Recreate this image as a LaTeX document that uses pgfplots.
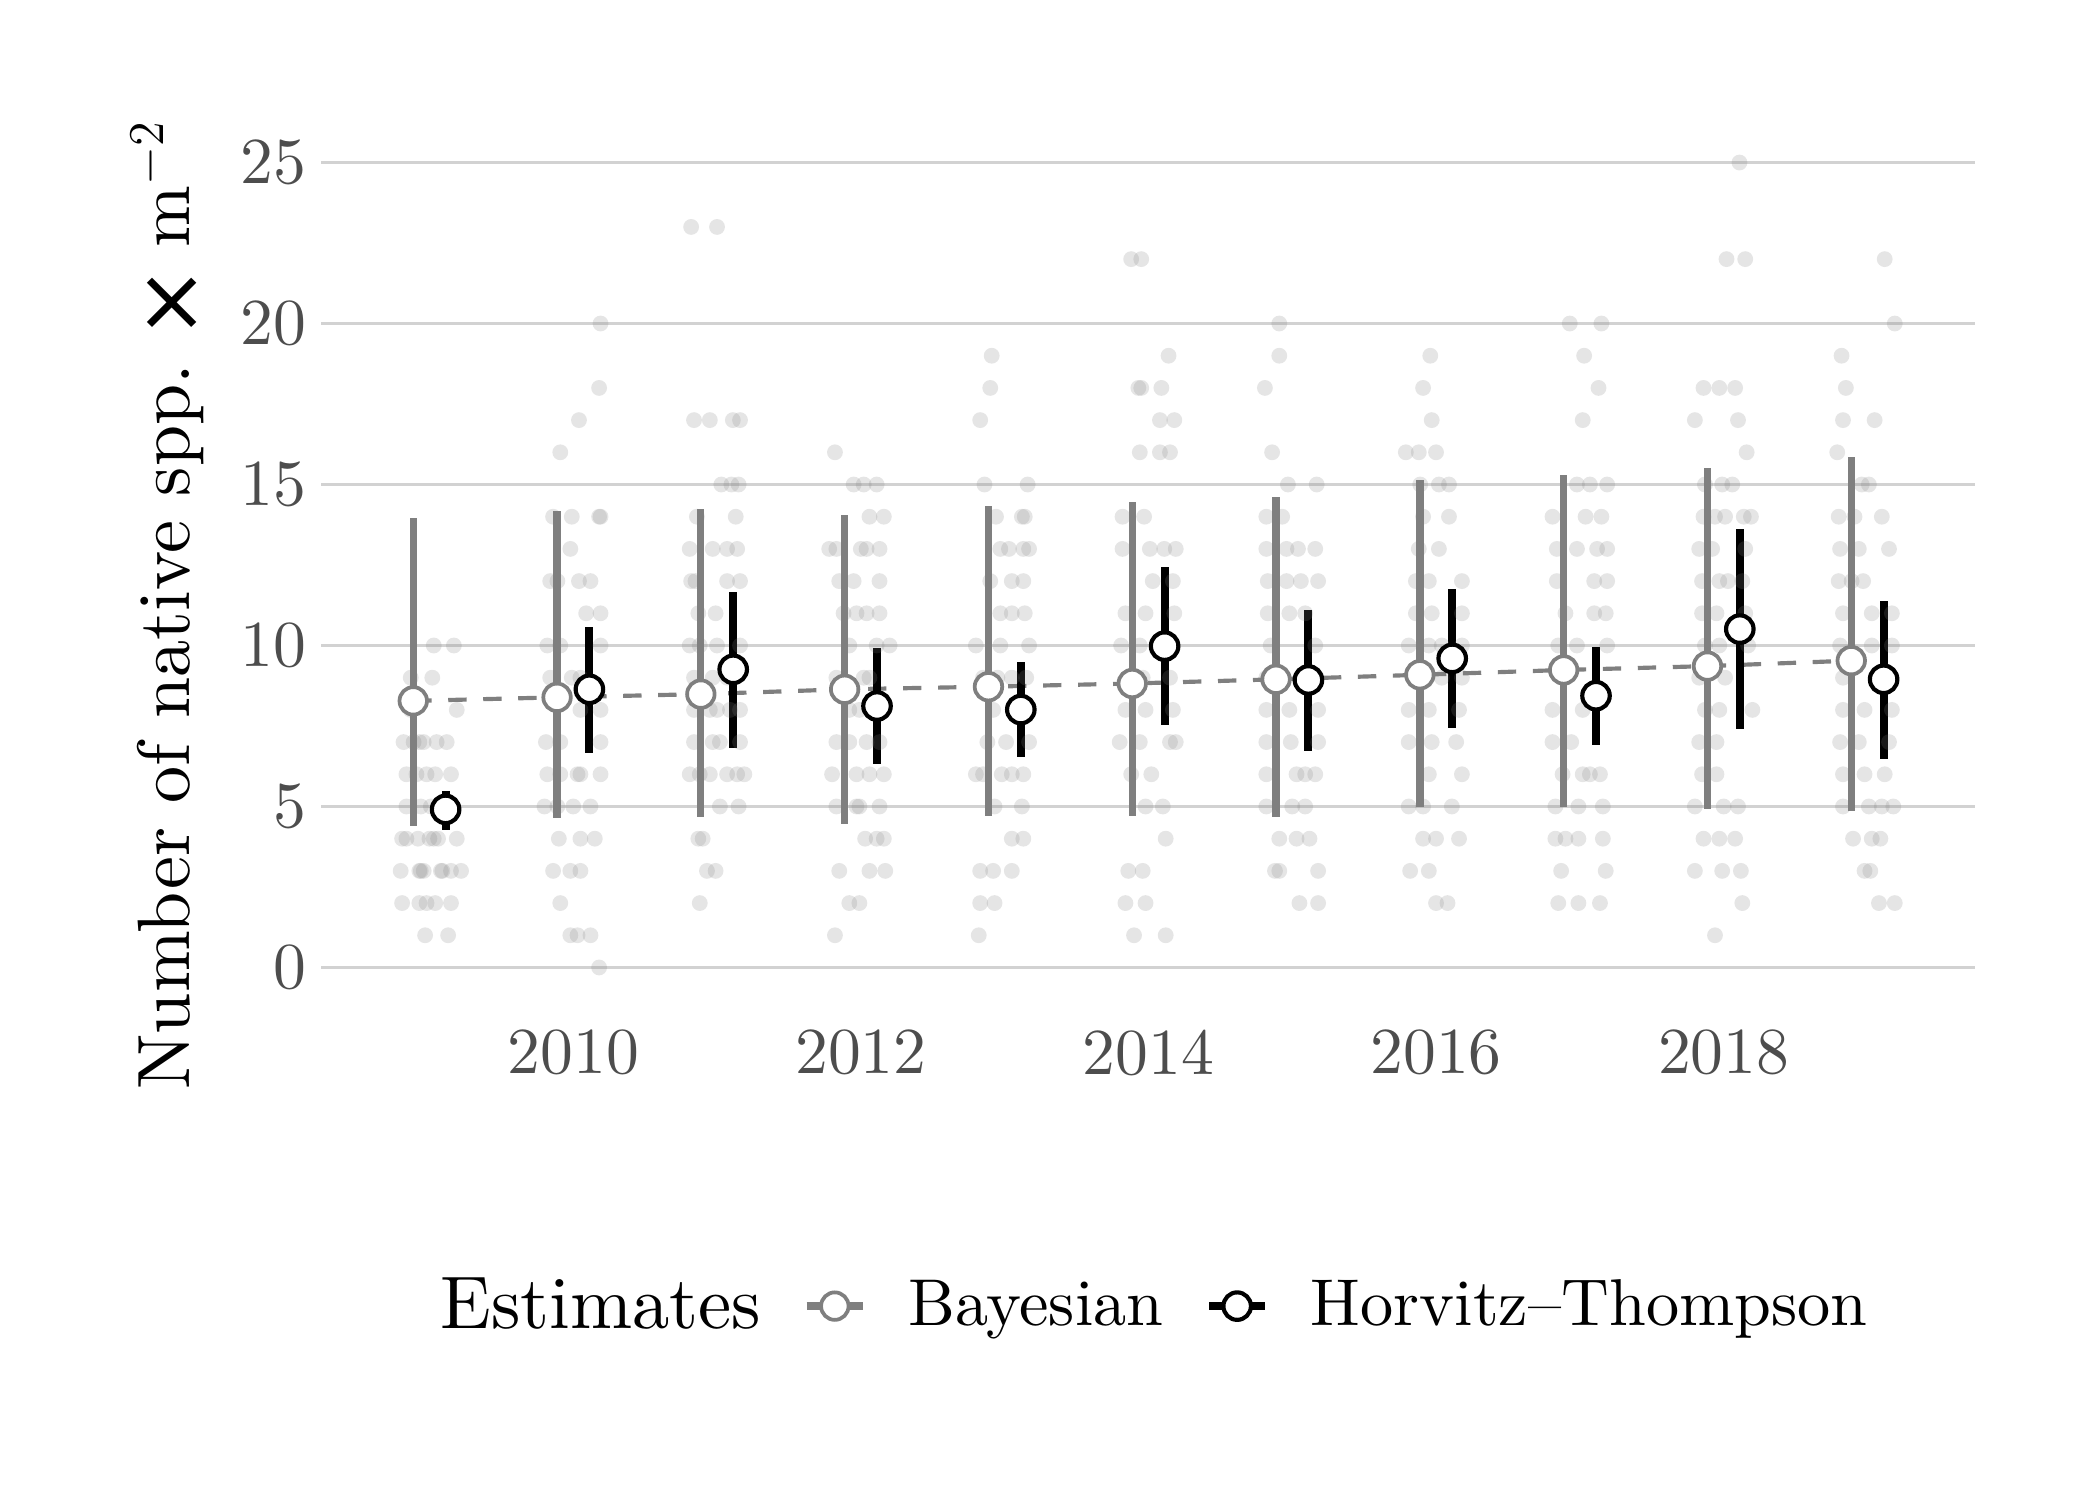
\documentclass[border=0pt]{standalone}
\usepackage{fontspec}
\setmainfont{lmroman10}[Extension=.otf, UprightFont=*-regular, BoldFont=*-bold, ItalicFont=*-italic]
\newfontfamily\djv{DejaVu Sans}
\usepackage{pgfplots}
\pgfplotsset{compat=1.18}
\usepackage{pgfplotstable}
\definecolor{g50}{HTML}{7F7F7F}
\definecolor{g30}{HTML}{4D4D4D}
\definecolor{gridc}{HTML}{D2D2D2}

\pgfplotstableread{
yr xb xh b bl bu h hl hu
2009 2008.8875 2009.1125 8.28 4.39 13.96 4.91 4.26 5.49
2010 2009.8875 2010.1125 8.39 4.63 14.17 8.64 6.67 10.57
2011 2010.8875 2011.1125 8.49 4.67 14.24 9.26 6.82 11.67
2012 2011.8875 2012.1125 8.64 4.47 14.04 8.12 6.32 9.92
2013 2012.8875 2013.1125 8.72 4.71 14.33 8.01 6.54 9.48
2014 2013.8875 2014.1125 8.82 4.71 14.46 9.98 7.52 12.44
2015 2014.8875 2015.1125 8.95 4.68 14.62 8.93 6.71 11.09
2016 2015.8875 2016.1125 9.09 4.97 15.14 9.60 7.44 11.75
2017 2016.8875 2017.1125 9.24 4.97 15.29 8.44 6.92 9.96
2018 2017.8875 2018.1125 9.36 4.92 15.51 10.51 7.40 13.61
2019 2018.8875 2019.1125 9.53 4.87 15.84 8.95 6.48 11.39
}\est

\pgfplotstableread[row sep=\\]{
x y\\
2009.03 10\\ 2009.17 10\\ 2008.87 9\\ 2009.02 9\\ 2008.87 8\\ 2009.19 8\\
2008.82 7\\ 2008.89 7\\ 2008.93 7\\ 2008.96 7\\ 2009.05 7\\ 2009.12 7\\
2008.84 6\\ 2008.91 6\\ 2008.98 6\\ 2009.04 6\\ 2009.15 6\\
2008.84 5\\ 2008.94 5\\ 2009.01 5\\
2008.81 4\\ 2008.84 4\\ 2008.92 4\\ 2009.00 4\\ 2009.03 4\\ 2009.06 4\\ 2009.19 4\\
2008.80 3\\ 2008.93 3\\ 2008.94 3\\ 2008.96 3\\ 2009.08 3\\ 2009.09 3\\ 2009.15 3\\ 2009.22 3\\
2008.81 2\\ 2008.93 2\\ 2008.98 2\\ 2009.04 2\\ 2009.15 2\\ 2008.97 1\\ 2009.13 1\\
2010.19 20\\ 2010.18 18\\ 2010.04 17\\ 2009.91 16\\
2009.86 14\\ 2009.99 14\\ 2010.18 14\\ 2010.19 14\\ 2009.98 13\\
2009.84 12\\ 2009.89 12\\ 2010.04 12\\ 2010.12 12\\ 2010.09 11\\ 2010.19 11\\
2009.82 10\\ 2009.91 10\\ 2010.19 10\\ 2009.84 9\\ 2009.99 9\\ 2010.05 9\\
2010.05 8\\ 2010.19 8\\ 2009.81 7\\ 2009.91 7\\ 2010.19 7\\
2009.82 6\\ 2009.91 6\\ 2010.03 6\\ 2010.05 6\\ 2010.19 6\\
2009.80 5\\ 2009.89 5\\ 2010.00 5\\ 2010.12 5\\ 2009.90 4\\ 2010.05 4\\ 2010.15 4\\
2009.86 3\\ 2009.98 3\\ 2010.05 3\\ 2009.91 2\\ 2009.98 1\\ 2010.03 1\\ 2010.12 1\\ 2010.18 0\\
2010.82 23\\ 2011.00 23\\ 2010.84 17\\ 2010.95 17\\ 2011.11 17\\ 2011.16 17\\
2011.03 15\\ 2011.10 15\\ 2011.15 15\\ 2010.86 14\\ 2011.13 14\\
2010.81 13\\ 2010.97 13\\ 2011.07 13\\ 2011.14 13\\
2010.82 12\\ 2010.85 12\\ 2011.07 12\\ 2011.16 12\\ 2010.87 11\\ 2010.99 11\\
2010.81 10\\ 2010.88 10\\ 2011.00 10\\ 2011.16 10\\ 2010.84 9\\ 2010.97 9\\ 2011.07 9\\
2010.84 8\\ 2010.95 8\\ 2011.00 8\\ 2011.09 8\\ 2011.16 8\\
2010.84 7\\ 2010.97 7\\ 2011.02 7\\ 2011.16 7\\
2010.81 6\\ 2010.88 6\\ 2010.95 6\\ 2011.07 6\\ 2011.14 6\\ 2011.19 6\\
2011.02 5\\ 2011.15 5\\ 2010.87 4\\ 2010.90 4\\ 2010.93 3\\ 2010.99 3\\ 2010.88 2\\
2011.82 16\\ 2011.95 15\\ 2012.02 15\\ 2012.11 15\\ 2012.06 14\\ 2012.16 14\\
2011.78 13\\ 2011.83 13\\ 2012.00 13\\ 2012.04 13\\ 2012.13 13\\
2011.85 12\\ 2011.95 12\\ 2012.13 12\\ 2011.88 11\\ 2011.97 11\\ 2012.04 11\\ 2012.13 11\\
2011.92 10\\ 2012.11 10\\ 2012.20 10\\ 2011.83 9\\ 2012.02 9\\ 2012.06 9\\
2011.92 8\\ 2011.99 8\\ 2012.16 8\\ 2011.83 7\\ 2011.92 7\\ 2012.04 7\\ 2012.13 7\\
2011.80 6\\ 2011.97 6\\ 2012.06 6\\ 2012.16 6\\ 2011.83 5\\ 2011.97 5\\ 2011.99 5\\ 2012.13 5\\
2012.03 4\\ 2012.11 4\\ 2012.16 4\\ 2011.85 3\\ 2012.06 3\\ 2012.17 3\\
2011.92 2\\ 2011.99 2\\ 2011.82 1\\
2012.91 19\\ 2012.90 18\\ 2012.83 17\\ 2012.86 15\\ 2013.16 15\\
2012.94 14\\ 2013.12 14\\ 2013.14 14\\ 2012.97 13\\ 2013.03 13\\ 2013.13 13\\ 2013.17 13\\
2012.90 12\\ 2013.05 12\\ 2013.13 12\\ 2012.97 11\\ 2013.05 11\\ 2013.14 11\\
2012.80 10\\ 2012.97 10\\ 2013.17 10\\ 2012.85 9\\ 2012.95 9\\ 2013.05 9\\ 2013.15 9\\
2012.92 8\\ 2012.88 7\\ 2013.01 7\\ 2013.17 7\\
2012.80 6\\ 2012.85 6\\ 2012.98 6\\ 2013.05 6\\ 2013.13 6\\ 2012.93 5\\ 2013.12 5\\
2013.05 4\\ 2013.13 4\\ 2012.83 3\\ 2012.92 3\\ 2013.05 3\\ 2012.83 2\\ 2012.93 2\\ 2012.82 1\\
2013.88 22\\ 2013.95 22\\ 2014.14 19\\ 2013.93 18\\ 2013.95 18\\ 2014.09 18\\
2014.08 17\\ 2014.18 17\\ 2013.94 16\\ 2014.08 16\\ 2014.15 16\\ 2013.82 14\\ 2013.97 14\\
2013.82 13\\ 2014.01 13\\ 2014.11 13\\ 2014.19 13\\ 2014.03 12\\ 2014.17 12\\
2013.84 11\\ 2013.98 11\\ 2014.18 11\\ 2013.81 10\\ 2013.94 10\\ 2013.96 9\\ 2014.15 9\\
2013.84 8\\ 2013.98 8\\ 2014.17 8\\ 2013.80 7\\ 2013.94 7\\ 2014.15 7\\ 2014.19 7\\
2013.88 6\\ 2014.02 6\\ 2013.98 5\\ 2014.10 5\\ 2014.12 4\\ 2013.86 3\\ 2013.96 3\\
2013.84 2\\ 2013.98 2\\ 2013.90 1\\ 2014.12 1\\
2014.91 20\\ 2014.91 19\\ 2014.81 18\\ 2014.86 16\\ 2014.97 15\\ 2015.17 15\\
2014.82 14\\ 2014.93 14\\ 2014.82 13\\ 2014.96 13\\ 2015.04 13\\ 2015.16 13\\
2014.83 12\\ 2014.96 12\\ 2015.06 12\\ 2015.18 12\\ 2014.83 11\\ 2014.98 11\\ 2015.09 11\\
2014.85 10\\ 2015.16 10\\ 2014.82 9\\ 2014.82 8\\ 2014.98 8\\ 2015.18 8\\
2014.82 7\\ 2014.99 7\\ 2015.18 7\\ 2014.82 6\\ 2015.03 6\\ 2015.09 6\\ 2015.16 6\\
2014.82 5\\ 2015.00 5\\ 2015.09 5\\ 2014.91 4\\ 2015.03 4\\ 2015.12 4\\
2014.88 3\\ 2014.91 3\\ 2015.18 3\\ 2015.05 2\\ 2015.18 2\\
2015.96 19\\ 2015.91 18\\ 2015.97 17\\ 2015.79 16\\ 2015.88 16\\ 2016.00 16\\
2015.89 15\\ 2016.02 15\\ 2016.09 15\\ 2015.91 14\\ 2016.09 14\\ 2015.88 13\\ 2016.02 13\\
2015.86 12\\ 2015.95 12\\ 2016.18 12\\ 2015.86 11\\ 2015.97 11\\ 2016.18 11\\
2015.81 10\\ 2015.95 10\\ 2016.04 10\\ 2016.18 10\\ 2015.88 9\\ 2016.04 9\\ 2016.18 9\\
2015.81 8\\ 2015.95 8\\ 2016.16 8\\ 2015.81 7\\ 2015.97 7\\ 2016.14 7\\ 2015.95 6\\ 2016.18 6\\
2015.81 5\\ 2015.91 5\\ 2016.11 5\\ 2015.91 4\\ 2016.00 4\\ 2016.16 4\\
2015.82 3\\ 2015.95 3\\ 2016.00 2\\ 2016.08 2\\
2016.93 20\\ 2017.15 20\\ 2017.03 19\\ 2017.13 18\\ 2017.02 17\\
2016.98 15\\ 2017.07 15\\ 2017.19 15\\ 2016.81 14\\ 2017.04 14\\ 2017.15 14\\
2016.84 13\\ 2016.98 13\\ 2017.12 13\\ 2017.19 13\\ 2016.84 12\\ 2017.10 12\\ 2017.19 12\\
2016.90 11\\ 2017.10 11\\ 2017.18 11\\ 2016.85 10\\ 2016.98 10\\ 2017.19 10\\ 2016.90 9\\
2016.81 8\\ 2017.02 8\\ 2016.81 7\\ 2016.94 7\\ 2016.88 6\\ 2017.02 6\\ 2017.07 6\\ 2017.14 6\\
2016.83 5\\ 2016.99 5\\ 2017.16 5\\ 2016.83 4\\ 2016.90 4\\ 2016.99 4\\ 2017.16 4\\
2016.87 3\\ 2017.18 3\\ 2016.85 2\\ 2016.99 2\\ 2017.14 2\\
2018.11 25\\ 2018.02 22\\ 2018.15 22\\ 2017.86 18\\ 2017.97 18\\ 2018.08 18\\
2017.80 17\\ 2018.10 17\\ 2018.16 16\\ 2017.87 15\\ 2017.99 15\\ 2018.06 15\\
2017.86 14\\ 2017.94 14\\ 2018.01 14\\ 2018.14 14\\ 2018.19 14\\
2017.83 13\\ 2017.92 13\\ 2018.15 13\\ 2017.85 12\\ 2017.97 12\\ 2018.03 12\\ 2018.13 12\\
2017.85 11\\ 2017.95 11\\ 2018.15 11\\ 2017.87 10\\ 2017.97 10\\ 2018.17 10\\
2017.83 9\\ 2018.01 9\\ 2017.87 8\\ 2017.97 8\\ 2018.20 8\\ 2017.83 7\\ 2017.95 7\\
2017.85 6\\ 2017.95 6\\ 2017.80 5\\ 2018.00 5\\ 2018.10 5\\ 2017.86 4\\ 2017.97 4\\ 2018.08 4\\
2017.80 3\\ 2017.99 3\\ 2018.12 3\\ 2018.13 2\\ 2017.94 1\\
2019.12 22\\ 2019.19 20\\ 2018.82 19\\ 2018.85 18\\ 2018.83 17\\ 2019.05 17\\ 2018.79 16\\
2018.96 15\\ 2019.01 15\\ 2018.80 14\\ 2018.91 14\\ 2019.10 14\\
2018.81 13\\ 2018.94 13\\ 2019.15 13\\ 2018.80 12\\ 2018.89 12\\ 2018.97 12\\
2018.83 11\\ 2019.03 11\\ 2019.17 11\\ 2018.81 10\\ 2019.03 10\\ 2019.17 10\\ 2018.83 9\\
2018.83 8\\ 2018.98 8\\ 2019.17 8\\ 2018.81 7\\ 2018.94 7\\ 2019.15 7\\
2018.83 6\\ 2018.98 6\\ 2019.12 6\\ 2018.83 5\\ 2019.01 5\\ 2019.10 5\\ 2019.18 5\\
2018.90 4\\ 2019.03 4\\ 2019.09 4\\ 2018.98 3\\ 2019.02 3\\ 2019.08 2\\ 2019.19 2\\
}\raw

\pgfplotsset{
  bayeskey/.style={legend image code/.code={
    \draw[g50, line width=1.75pt] (0pt,0pt) -- (13.5pt,0pt);
    \draw[g50, line width=0.9pt, fill=white] (6.75pt,0pt) circle (3.3pt);}},
  htkey/.style={legend image code/.code={
    \draw[black, line width=1.9pt] (0pt,0pt) -- (13.5pt,0pt);
    \draw[black, line width=1.0pt, fill=white] (6.75pt,0pt) circle (3.3pt);}},
}

\begin{document}
\begin{tikzpicture}
\useasboundingbox (0pt,0pt) rectangle (504pt,360pt);
\begin{axis}[
  at={(77.04pt,118.15pt)}, anchor=south west,
  scale only axis, width=396.96pt, height=212.5pt,
  xmin=2008.246, xmax=2019.748, ymin=-1.25, ymax=26.25,
  axis line style={draw=none}, tick style={draw=none}, major tick length=0pt,
  xtick={2010,2012,2014,2016,2018}, ytick={0,5,10,15,20,25},
  ymajorgrids, grid style={gridc, line width=0.5pt},
  /pgf/number format/assume math mode=true,
  ticklabel style={font=\fontsize{15.75}{18}\selectfont, text=g30},
  xticklabel style={/pgf/number format/1000 sep={}, anchor=north, inner sep=0pt, yshift=-5.1pt},
  yticklabel style={anchor=east, inner sep=0pt, xshift=-3.3pt},
  ylabel={Number of native spp.\ \raisebox{-2.4pt}{\djv\fontsize{21}{21}\selectfont ×}\hspace{0.25em}m$^{-2}$},
  ylabel style={at={(axis description cs:-0.0925,0.455)}, anchor=center, font=\fontsize{17.8}{20}\selectfont},
  legend style={at={(axis description cs:0.4935,-0.337)}, anchor=center, draw=none, fill=none,
    font=\fontsize{15.9}{18}\selectfont,
    /tikz/every even column/.append style={column sep=8pt},
    /tikz/every odd column/.append style={column sep=8pt}},
  legend columns=-1,
]
\addplot[only marks, mark=*, mark size=1.9pt, mark options={draw=g50, draw opacity=0, fill=g50, fill opacity=0.2}, forget plot] table[x=x, y=y] {\raw};
\addplot[g50, line width=1pt, dash pattern=on 4.4pt off 4pt, forget plot] table[x=xb, y=b] {\est};
\addplot[draw=none, forget plot, error bars/.cd, y dir=both, y explicit, error mark=none,
  error bar style={draw=g50, solid, line width=1.75pt}]
  table[x=xb, y=b, y error plus expr=\thisrow{bu}-\thisrow{b}, y error minus expr=\thisrow{b}-\thisrow{bl}] {\est};
\addplot[draw=none, forget plot, error bars/.cd, y dir=both, y explicit, error mark=none,
  error bar style={draw=black, solid, line width=1.9pt}]
  table[x=xh, y=h, y error plus expr=\thisrow{hu}-\thisrow{h}, y error minus expr=\thisrow{h}-\thisrow{hl}] {\est};
\addplot[only marks, mark=*, mark size=3.3pt, mark options={draw=g50, fill=white, line width=0.9pt}, forget plot] table[x=xb, y=b] {\est};
\addplot[only marks, mark=*, mark size=3.3pt, mark options={draw=black, fill=white, line width=1.0pt}, forget plot] table[x=xh, y=h] {\est};
\addlegendimage{empty legend}
\addlegendentry{\fontsize{17.9}{20}\selectfont Estimates}
\addlegendimage{bayeskey}
\addlegendentry{Bayesian}
\addlegendimage{htkey}
\addlegendentry{Horvitz–Thompson}
\end{axis}
\end{tikzpicture}
\end{document}
